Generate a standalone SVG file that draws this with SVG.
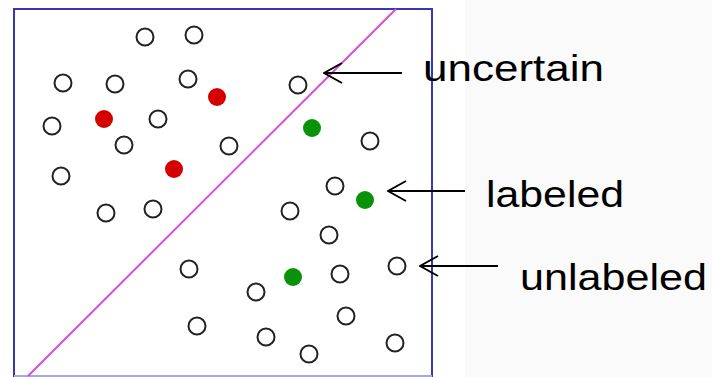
<svg xmlns="http://www.w3.org/2000/svg" width="712" height="377" viewBox="0 0 712 377">
  <defs>
    <style>
      .u { fill: #ffffff; stroke: #222222; stroke-width: 2; }
      .red { fill: #d40000; stroke: none; }
      .grn { fill: #089208; stroke: none; }
      .arr { stroke: #000000; stroke-width: 2; fill: none; }
      .lbl { font-family: "Liberation Sans", Arial, sans-serif; font-size: 36px; fill: #000000; }
    </style>
    <marker id="ah" viewBox="0 0 20 22" refX="19" refY="11" markerWidth="20" markerHeight="22" markerUnits="userSpaceOnUse" orient="auto">
      <path d="M1,1 L19,11 L1,21" fill="none" stroke="#000" stroke-width="2"/>
    </marker>
  </defs>
  <rect x="0" y="0" width="712" height="377" fill="#ffffff"/>
  <rect x="465" y="0" width="247" height="377" fill="#fafafa"/>

  <g id="frame">
    <rect x="14" y="9" width="418" height="368" fill="#ffffff" stroke="none"/>
    <path d="M14,377 L14,9 L432,9 L432,377" fill="none" stroke="#3838b4" stroke-width="2"/>
    <line x1="14" y1="376" x2="432" y2="376" stroke="#a8a8dc" stroke-width="2"/>
  </g>

  <g id="boundary">
    <line x1="28" y1="376" x2="396" y2="9" stroke="#d64fd6" stroke-width="2"/>
  </g>

  <g id="unlabeled-points">
    <circle class="u" cx="145" cy="37" r="8.5"/>
    <circle class="u" cx="194" cy="35" r="8.5"/>
    <circle class="u" cx="63" cy="83" r="8.5"/>
    <circle class="u" cx="115" cy="84" r="8.5"/>
    <circle class="u" cx="188" cy="79" r="8.5"/>
    <circle class="u" cx="52" cy="126" r="8.5"/>
    <circle class="u" cx="158" cy="119" r="8.5"/>
    <circle class="u" cx="124" cy="145" r="8.5"/>
    <circle class="u" cx="229" cy="146" r="8.5"/>
    <circle class="u" cx="61" cy="176" r="8.5"/>
    <circle class="u" cx="106" cy="213" r="8.5"/>
    <circle class="u" cx="153" cy="209" r="8.5"/>
    <circle class="u" cx="189" cy="269" r="8.5"/>
    <circle class="u" cx="197" cy="326" r="8.5"/>
    <circle class="u" cx="298" cy="85" r="8.5"/>
    <circle class="u" cx="370" cy="141" r="8.5"/>
    <circle class="u" cx="335" cy="186" r="8.5"/>
    <circle class="u" cx="290" cy="211" r="8.5"/>
    <circle class="u" cx="329" cy="235" r="8.5"/>
    <circle class="u" cx="397" cy="266" r="8.5"/>
    <circle class="u" cx="340" cy="274" r="8.5"/>
    <circle class="u" cx="256" cy="292" r="8.5"/>
    <circle class="u" cx="346" cy="316" r="8.5"/>
    <circle class="u" cx="266" cy="337" r="8.5"/>
    <circle class="u" cx="395" cy="343" r="8.5"/>
    <circle class="u" cx="309" cy="354" r="8.5"/>
  </g>

  <g id="labeled-points">
    <circle class="red" cx="217" cy="97" r="9"/>
    <circle class="red" cx="104" cy="119" r="9"/>
    <circle class="red" cx="174" cy="169" r="9"/>
    <circle class="grn" cx="312" cy="128" r="9"/>
    <circle class="grn" cx="365" cy="200" r="9"/>
    <circle class="grn" cx="293" cy="277" r="9"/>
  </g>

  <g id="connectors">
    <line class="arr" x1="402" y1="73" x2="324" y2="73" marker-end="url(#ah)"/>
    <line class="arr" x1="465" y1="191" x2="388" y2="191" marker-end="url(#ah)"/>
    <line class="arr" x1="498" y1="266" x2="420" y2="266" marker-end="url(#ah)"/>
  </g>

  <g id="label-uncertain">
    <text class="lbl" x="423" y="81" textLength="181" lengthAdjust="spacingAndGlyphs">uncertain</text>
  </g>
  <g id="label-labeled">
    <text class="lbl" x="486" y="207" textLength="138" lengthAdjust="spacingAndGlyphs">labeled</text>
  </g>
  <g id="label-unlabeled">
    <text class="lbl" x="520" y="290" textLength="187" lengthAdjust="spacingAndGlyphs">unlabeled</text>
  </g>
</svg>
